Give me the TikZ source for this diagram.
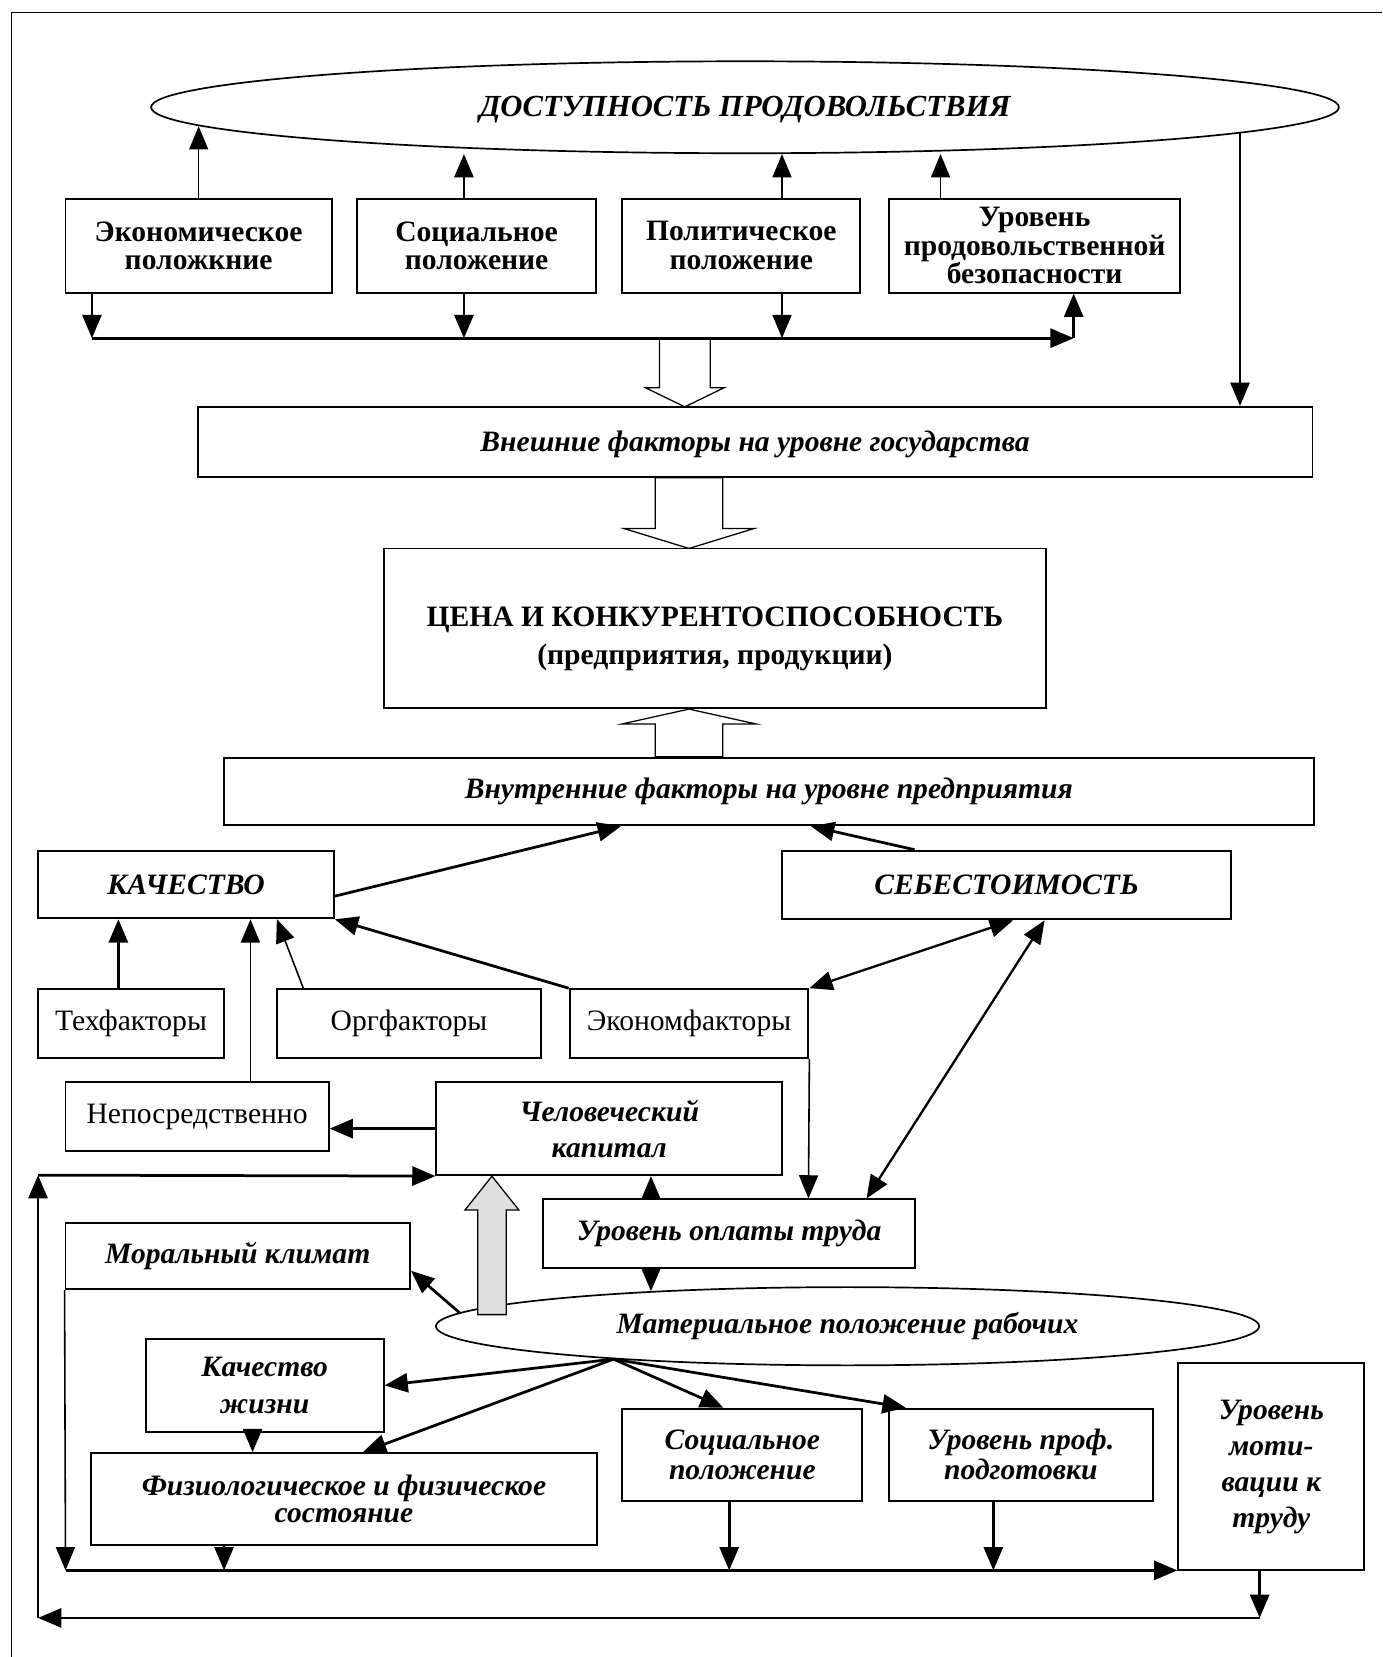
\documentclass[tikz,border=0pt]{standalone}
\usepackage{fontspec}
\setmainfont{Liberation Serif}
\usetikzlibrary{arrows.meta,shapes.geometric}
\tikzset{bx/.style={draw, line width=1.8pt, align=center, inner sep=0pt,
  font=\fontsize{28}{27}\selectfont\bfseries}}
\tikzset{bi/.style={bx, font=\fontsize{28}{30}\selectfont\bfseries\itshape}}
\tikzset{rg/.style={bx, font=\fontsize{28}{28}\selectfont}}
\tikzset{sz/.style 2 args={minimum width=#1pt, minimum height=#2pt}}
\tikzset{ov/.style={ellipse, draw, line width=1.6pt, inner sep=0pt,
  font=\fontsize{28}{28}\selectfont\bfseries\itshape}}
\tikzset{ar/.style={-{Triangle[length=22pt,width=18pt]}, line width=2.6pt}}
\tikzset{ar1/.style={ar, line width=1.5pt}}
\tikzset{ar2/.style={{Triangle[length=22pt,width=18pt]}-{Triangle[length=22pt,width=18pt]}, line width=2.2pt}}
\tikzset{hol/.style={draw, line width=1.2pt, fill=white}}

\begin{document}
\begin{tikzpicture}[x=1pt, y=-1pt]
  \useasboundingbox (0,0) rectangle (1308,1568);
  \draw[line width=1.5pt] (11,1568) -- (11,12) -- (1308,12);

  % state level
  \node[ov, sz={1124}{87}, font=\fontsize{29}{29}\selectfont\bfseries\itshape] (dost) at (705,101.5) {\rule{0pt}{24pt}ДОСТУПНОСТЬ ПРОДОВОЛЬСТВИЯ};
  \node[bx, sz={252}{89}] (econ) at (188,232.5) {Экономическое\\положкние};
  \node[bx, sz={226}{89}] (soc) at (451,232.5) {Социальное\\положение};
  \node[bx, sz={225}{89}] (pol) at (701.5,232.5) {Политическое\\положение};
  \node[bx, sz={276}{89}] (ur) at (979,232.5) {Уровень\\продовольственной\\безопасности};
  \node[bi, sz={1055}{66}] (vnesh) at (714.5,418) {\rule{0pt}{24pt}Внешние факторы на уровне государства};
  \node[bx, sz={627}{151}, font=\fontsize{28}{36}\selectfont\bfseries] (cena) at (676.5,594.5)
    {\rule{0pt}{38pt}ЦЕНА И КОНКУРЕНТОСПОСОБНОСТЬ\\(предприятия, продукции)};
  \node[bi, sz={1031}{64}] (vnutr) at (727.5,749) {Внутренние факторы на уровне предприятия};

  % enterprise level
  \node[bi, sz={280}{64}] (kach) at (176,837) {КАЧЕСТВО};
  \node[bi, sz={425}{65}] (seb) at (952.5,837.5) {СЕБЕСТОИМОСТЬ};
  \node[rg, sz={176}{65}] (tech) at (124,968.5) {Техфакторы};
  \node[rg, sz={250}{65}] (org) at (387,968.5) {Оргфакторы};
  \node[rg, sz={226}{65}] (ekf) at (652,968.5) {Экономфакторы};
  \node[rg, sz={249}{65}] (nep) at (186.5,1056.5) {Непосредственно};
  \node[bi, sz={327}{88}, font=\fontsize{28}{34}\selectfont\bfseries\itshape] (chel) at (576.5,1068) {Человеческий\\капитал};
  \node[bi, sz={352}{65}] (opl) at (690,1167.5) {Уровень оплаты труда};
  \node[bi, sz={326}{63}] (moral) at (225,1188.5) {Моральный климат};
  \node[ov, sz={779}{74}] (mat) at (802,1255) {Материальное положение рабочих};
  \node[bi, sz={225}{88}, font=\fontsize{28}{35}\selectfont\bfseries\itshape] (kzh) at (250.5,1311) {Качество\\жизни};
  \node[bi, sz={479}{87}, font=\fontsize{28}{26}\selectfont\bfseries\itshape] (fiz) at (325.5,1418.5) {Физиологическое и физическое\\состояние};
  \node[bi, sz={227}{87}, font=\fontsize{28}{28}\selectfont\bfseries\itshape] (soc2) at (702.5,1376.5) {Социальное\\положение};
  \node[bi, sz={250}{87}, font=\fontsize{28}{28}\selectfont\bfseries\itshape] (prof) at (966,1376.5) {Уровень проф.\\подготовки};
  \node[bi, sz={176}{196}, font=\fontsize{28}{34}\selectfont\bfseries\itshape] (motiv) at (1203,1388) {Уровень\\моти-\\вации к\\труду};

  \coordinate (e1) at (87,320);
  \coordinate (e2) at (439,320);
  \coordinate (e3) at (740,320);
  \coordinate (e4) at (1016,320);
  \coordinate (u1) at (890,320);
  \coordinate (xo) at (616,0);
  \coordinate (xk) at (239,0);
  \coordinate (m1) at (62,1486);
  \coordinate (m2) at (212,1486);
  \coordinate (m3) at (690,1486);
  \coordinate (m4) at (940,1486);
  \coordinate (m5) at (1192,1531);
  \coordinate (m6) at (36,1531);
  \coordinate (m7) at (36,1112);
  \coordinate (fan) at (mat.188);

  % block arrows
  \draw[hol] (648,321) -- ++(-24,0) -- ++(0,46) -- ++(-13,0) -- ++(37,18) -- ++(37,-18) -- ++(-13,0) -- ++(0,-46) -- cycle;
  \draw[hol] (652,452) -- ++(-32,0) -- ++(0,48) -- ++(-30,0) -- ++(62,19) -- ++(62,-19) -- ++(-30,0) -- ++(0,-48) -- cycle;
  \draw[hol] (652,716) -- ++(-32,0) -- ++(0,-31) -- ++(-31,0) -- ++(63,-14) -- ++(63,14) -- ++(-31,0) -- ++(0,31) -- cycle;
  \draw[hol, fill=gray!25] (465.5,1244) -- ++(-13.5,0) -- ++(0,-99) -- ++(-12,0) -- ++(25.5,-32) -- ++(25.5,32) -- ++(-12,0) -- ++(0,99) -- cycle;

  % upper connectors
  \draw[ar1] (econ.north) -- (econ.north |- dost.182);
  \draw[ar] (e2 |- soc.north) -- (e2 |- dost.south);
  \draw[ar1] (e3 |- pol.north) -- (e3 |- dost.south);
  \draw[ar1] (u1 |- ur.north) -- (u1 |- dost.south);
  \draw[ar] (dost.357) -- (dost.357 |- vnesh.north);
  \draw[ar] (e1 |- econ.south) -- (e1);
  \draw[ar] (e2 |- soc.south) -- (e2);
  \draw[ar1] (e3 |- pol.south) -- (e3);
  \draw[ar] (e1) -- (e4);
  \draw[ar] (e4) -- (e4 |- ur.south);

  % enterprise connectors
  \draw[ar] ([yshift=-11pt]kach.east) -- ([xshift=-140pt]vnutr.south);
  \draw[ar] ([xshift=-87pt]seb.north) -- ([xshift=40pt]vnutr.south);
  \draw[ar] ([xshift=-12pt]tech.north) -- ([xshift=-64pt]kach.south);
  \draw[ar1] ([xshift=50.5pt]nep.north) -- ([xshift=61pt]kach.south);
  \draw[ar1] ([xshift=-100pt]org.north) -- ([xshift=86pt]kach.south);
  \draw[ar] (ekf.north west) -- (kach.south east);
  \draw[ar2] (ekf.north east) -- ([xshift=6pt]seb.south);
  \draw[ar2] ([xshift=36pt]seb.south) -- ([xshift=130pt]opl.north);
  \draw[ar1] (ekf.south east) -- ([xshift=75pt]opl.north);
  \draw[ar] (chel.west) -- (chel.west -| nep.east);
  \draw[ar] (xo |- opl.north) -- (xo |- chel.south);
  \draw[ar] (xo |- opl.south) -- (xo |- mat.170);

  % workers
  \draw[ar] (mat.178) -- ([yshift=-14pt]moral.east);
  \draw[ar] (fan) -- (kzh.east);
  \draw[ar] (fan) -- ([xshift=18pt]fiz.north);
  \draw[ar] (fan) -- ([xshift=-18pt]soc2.north);
  \draw[ar] (fan) -- ([xshift=17pt]prof.north west);
  \draw[ar] (xk |- kzh.south) -- (xk |- fiz.north);
  \draw[ar1] (moral.south west) -- (m1);
  \draw[ar] (m2 |- fiz.south) -- (m2);
  \draw[ar] (m3 |- soc2.south) -- (m3);
  \draw[ar] (m4 |- prof.south) -- (m4);
  \draw[ar] (m1) -- (m1 -| motiv.west);
  \draw[ar] (m5 |- motiv.south) -- (m5);
  \draw[ar] (m5) -- (m6);
  \draw[ar] (m6) -- (m7);
  \draw[ar] (m7) -- (chel.south west);
\end{tikzpicture}
\end{document}
